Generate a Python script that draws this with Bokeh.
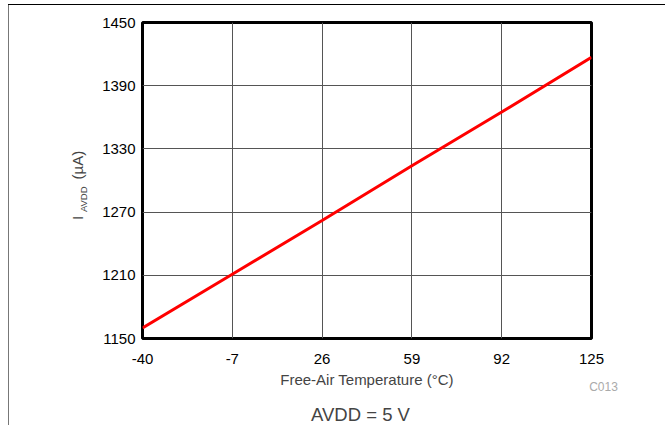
import math
from bokeh.plotting import figure
from bokeh.models import Label, FixedTicker, Range1d
from bokeh.embed import file_html
from bokeh.resources import INLINE

# ---- data ----
temperature = [-40, -7, 26, 59, 92, 125]
iavdd = [1160, 1211, 1262, 1314, 1365, 1417]
x_ticks = [-40, -7, 26, 59, 92, 125]
y_ticks = [1150, 1210, 1270, 1330, 1390, 1450]
x_tick_labels = {-40: "-40", -7: "-7"}
x_title = "Free-Air Temperature (°C)"
condition = "AVDD = 5 V"
code = "C013"

FONT = "Liberation Sans"
W, H = 665, 425
FL, FR, FT, FB = 142, 591, 22, 342  # frame edges on canvas

p = figure(width=W, height=H, output_backend="svg", toolbar_location=None,
           x_range=Range1d(-40, 125), y_range=Range1d(1150, 1450),
           min_border_left=FL, min_border_right=W - FR,
           min_border_top=FT, min_border_bottom=H - FB)
p.background_fill_color = "white"
p.border_fill_color = "white"
p.border_fill_alpha = 0
p.outline_line_color = "black"
p.outline_line_width = 3

# thin box lines of the original figure (drawn as element background)
p.styles = {
    "background-color": "white",
    "background-image": "linear-gradient(#000000, #000000), linear-gradient(#777777, #777777)",
    "background-size": "657px 1px, 1px 421px",
    "background-position": "8px 4px, 8px 4px",
    "background-repeat": "no-repeat",
}

p.line(temperature, iavdd, line_color="#ff0000", line_width=3)

for ax in (p.xaxis, p.yaxis):
    ax.axis_line_color = None
    ax.major_tick_line_color = None
    ax.minor_tick_line_color = None
    ax.major_label_text_font = FONT
    ax.major_label_text_font_size = "15px"
    ax.major_label_text_color = "black"
    ax.axis_label_text_font = FONT
    ax.axis_label_text_font_size = "15px"
    ax.axis_label_text_font_style = "normal"
p.xaxis.ticker = FixedTicker(ticks=x_ticks)
p.yaxis.ticker = FixedTicker(ticks=y_ticks)
p.yaxis.major_label_standoff = 1
p.xaxis.major_label_overrides = x_tick_labels
p.xaxis.major_label_standoff = 9
p.xaxis.axis_label = x_title
p.xaxis.axis_label_standoff = 4

p.xgrid.ticker = FixedTicker(ticks=x_ticks)
p.ygrid.ticker = FixedTicker(ticks=y_ticks)
for g in (p.xgrid, p.ygrid):
    g.grid_line_color = "#555555"
    g.grid_line_width = 1

# helper converting canvas pixel to data coordinates
def px(x_c):
    return -40 + (x_c - FL) * 165 / (FR - FL)

def py(y_c):
    return 1150 + (FB - y_c) * 300 / (FB - FT)

rot = math.pi / 2
p.add_layout(Label(x=px(77), y=py(222), text="I", angle=rot,
                   text_font=FONT, text_font_size="15px", text_baseline="alphabetic"), "left")
p.add_layout(Label(x=px(83), y=py(214), text="AVDD", angle=rot,
                   text_font=FONT, text_font_size="9.5px", text_baseline="alphabetic"), "left")
p.add_layout(Label(x=px(77), y=py(181), text="(µA)", angle=rot,
                   text_font=FONT, text_font_size="15px", text_baseline="alphabetic"), "left")

p.add_layout(Label(x=px(603), y=py(391), text=code, text_align="center",
                   text_baseline="middle", text_font=FONT, text_font_size="12px",
                   text_color="#aaaaaa"), "below")
p.add_layout(Label(x=px(360), y=py(419), text=condition, text_align="center",
                   text_baseline="alphabetic", text_font=FONT, text_font_size="18.5px"), "below")

open("out.html", "w").write(file_html(p, INLINE))
